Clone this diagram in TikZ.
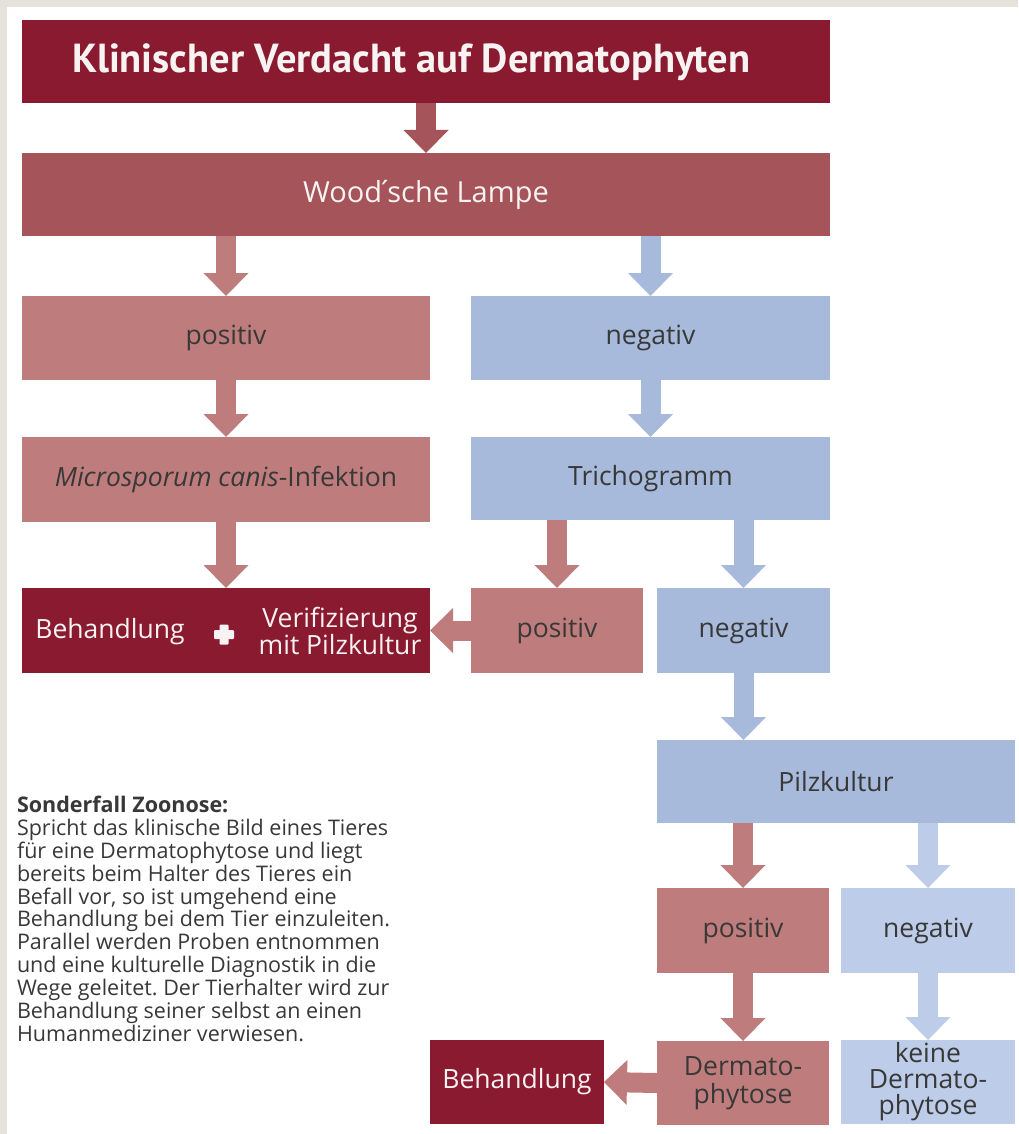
\documentclass[tikz,border=0pt]{standalone}
\usepackage{fontspec}
\setmainfont{Open Sans}
\newfontfamily\titlefont{PT Sans}
\usetikzlibrary{arrows.meta}
\definecolor{cdark}{HTML}{8A1A2F}
\definecolor{cwood}{HTML}{A5555A}
\definecolor{clred}{HTML}{BE7D7C}
\definecolor{cblue}{HTML}{A8BADB}
\definecolor{clblue}{HTML}{BDCCE8}
\definecolor{cgreyb}{HTML}{E5E1DB}
\definecolor{ctext}{HTML}{383838}
\definecolor{cwhite}{HTML}{F8F2F2}
\frenchspacing
\begin{document}
\begin{tikzpicture}[x=1pt,y=-1pt,
  box/.style={inner sep=0pt, outer sep=0pt, align=center, text=ctext,
    font=\fontsize{26.5}{28}\selectfont},
  wh/.style 2 args={minimum width=#1pt, minimum height=#2pt},
  darkbox/.style={box, fill=cdark, text=cwhite},
  woodbox/.style={box, fill=cwood, text=cwhite},
  redbox/.style={box, fill=clred},
  bluebox/.style={box, fill=cblue},
  lbluebox/.style={box, fill=clblue},
  barrow/.style={draw=#1, line width=20pt,
    -{Triangle[width=45pt,length=23pt,line width=0pt,fill=#1]}},
  lbl/.style={inner sep=0pt, outer sep=0pt, align=center}
]
% background
\fill[cgreyb] (0,0) rectangle (1018,1134);
\fill[white] (7,7) rectangle (1018,1134);
\useasboundingbox (0,0) rectangle (1018,1134);

% boxes
\node[darkbox, wh={808}{83}] (title) at (426,61.5) {};
\node[lbl, anchor=west, text=cwhite, font=\titlefont\bfseries\fontsize{40.5}{42}\selectfont]
  (titletxt) at ([xshift=50pt,yshift=-1pt]title.west) {Klinischer Verdacht auf Dermatophyten};
\node[woodbox, wh={808}{83}, font=\fontsize{29}{30}\selectfont] (wood) at (426,194.5) {Wood\kern-0.2em´\kern-0.2em sche Lampe};
\node[redbox, wh={408}{84}] (pos1) at (226,338) {positiv};
\node[bluebox, wh={359}{84}] (neg1) at (650.5,338) {negativ};
\node[redbox, wh={408}{85}] (micro) at (226,479.5) {{\itshape Microsporum canis}-Infektion};
\node[bluebox, wh={359}{83}] (trich) at (650.5,478.5) {Trichogramm};
\node[darkbox, wh={408}{85}] (beh1) at (226,630.5) {};
\node[lbl, text=cwhite, font=\fontsize{26.5}{28}\selectfont] (beh1a) at (110,632) {Behandlung};
\node[lbl, text=cwhite, font=\fontsize{26.5}{27}\selectfont] (beh1b) at (340,631) {Verifizierung\\mit Pilzkultur};
\node[redbox, wh={172}{85}] (pos2) at (557,630.5) {positiv};
\node[bluebox, wh={173}{85}] (neg2) at (743.5,630.5) {negativ};
\node[bluebox, wh={358}{83}] (pilz) at (836,781.5) {Pilzkultur};
\node[redbox, wh={172}{85}] (pos3) at (743,930.5) {positiv};
\node[lbluebox, wh={174}{85}] (neg3) at (928,930.5) {negativ};
\node[darkbox, wh={174}{84}] (beh2) at (517,1082) {Behandlung};
\node[redbox, wh={172}{84}, font=\fontsize{26.5}{28}\selectfont] (derm) at (743,1083) {Dermato-\\phytose};
\node[lbluebox, wh={174}{84}, font=\fontsize{26.5}{26}\selectfont] (keine) at (928,1082) {keine\\Dermato-\\phytose};

% plus sign
\fill[cwhite, rounded corners=1pt] (214,630) rectangle (234,639);
\fill[cwhite, rounded corners=1pt] (219.5,624.5) rectangle (228.5,644.5);

% arrows
\draw[barrow=cwood] (title.south) -- (wood.north);
\draw[barrow=clred] (wood.south -| pos1.north) -- (pos1.north);
\draw[barrow=cblue] (wood.south -| neg1.north) -- (neg1.north);
\draw[barrow=clred] (pos1.south) -- (micro.north);
\draw[barrow=cblue] (neg1.south) -- (trich.north);
\draw[barrow=clred] (micro.south) -- (beh1.north);
\draw[barrow=clred] (trich.south -| pos2.north) -- (pos2.north);
\draw[barrow=cblue] (trich.south -| neg2.north) -- (neg2.north);
\draw[barrow=clred] (pos2.west) -- (beh1.east);
\draw[barrow=cblue] (neg2.south) -- (neg2.south |- pilz.north);
\draw[barrow=clred] (pilz.south -| pos3.north) -- (pos3.north);
\draw[barrow=clblue] (pilz.south -| neg3.north) -- (neg3.north);
\draw[barrow=clred] (pos3.south) -- (derm.north);
\draw[barrow=clblue] (neg3.south) -- (keine.north);
\draw[barrow=clred] (derm.west) -- (beh2.east);

% note
\node[lbl, anchor=north west, align=left, text=ctext, font=\fontsize{21.5}{22.9}\selectfont]
  (note) at (17,796) {\textbf{Sonderfall Zoonose:}\\
Spricht das klinische Bild eines Tieres\\
für eine Dermatophytose und liegt\\
bereits beim Halter des Tieres ein\\
Befall vor, so ist umgehend eine\\
Behandlung bei dem Tier einzuleiten.\\
Parallel werden Proben entnommen\\
und eine kulturelle Diagnostik in die\\
Wege geleitet. Der Tierhalter wird zur\\
Behandlung seiner selbst an einen\\
Humanmediziner verwiesen.};
\end{tikzpicture}
\end{document}
